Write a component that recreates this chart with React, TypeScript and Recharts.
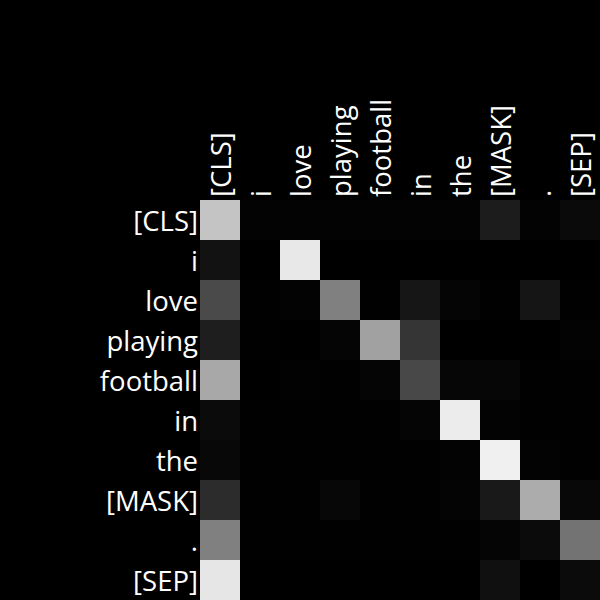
import React from 'react';
import { ScatterChart, Scatter, XAxis, YAxis } from 'recharts';

const tokens = ['[CLS]', 'i', 'love', 'playing', 'football', 'in', 'the', '[MASK]', '.', '[SEP]'];

// attention weights, one row per query token (0..1 → grey level)
const rowCls = [0.77, 0.01, 0.01, 0.01, 0.01, 0.01, 0.01, 0.11, 0.01, 0.04];
const rowI = [0.07, 0.0, 0.91, 0.0, 0.0, 0.0, 0.0, 0.0, 0.0, 0.0];
const rowLove = [0.29, 0.004, 0.012, 0.5, 0.004, 0.086, 0.02, 0.004, 0.082, 0.004];
const rowPlaying = [0.118, 0.004, 0.0, 0.02, 0.63, 0.208, 0.0, 0.0, 0.0, 0.012];
const rowFootball = [0.66, 0.0, 0.008, 0.004, 0.02, 0.282, 0.024, 0.024, 0.004, 0.004];
const rowIn = [0.043, 0.004, 0.004, 0.004, 0.004, 0.02, 0.925, 0.012, 0.004, 0.004];
const rowThe = [0.031, 0.004, 0.004, 0.004, 0.004, 0.004, 0.012, 0.94, 0.012, 0.004];
const rowMask = [0.172, 0.004, 0.004, 0.027, 0.004, 0.004, 0.016, 0.098, 0.675, 0.031];
const rowDot = [0.5, 0.004, 0.004, 0.004, 0.004, 0.004, 0.004, 0.02, 0.043, 0.45];
const rowSep = [0.9, 0.0, 0.0, 0.0, 0.0, 0.0, 0.0, 0.063, 0.0, 0.043];

const rows = [rowCls, rowI, rowLove, rowPlaying, rowFootball, rowIn, rowThe, rowMask, rowDot, rowSep];

const cells = rows.flatMap((r, y) => r.map((v, x) => ({ x, y, v })));

const W = 600;
const H = 600;
const LEFT = 200;
const TOP = 200;
const CELL = (W - LEFT) / tokens.length;
const FONT = "'Open Sans', sans-serif";
const FS = 27.5;

const grey = (v: number) => {
  const g = Math.round(v * 255);
  return `rgb(${g},${g},${g})`;
};

const Cell = (props: any) => {
  const { cx, cy, payload } = props;
  return <rect x={cx - CELL / 2} y={cy - CELL / 2} width={CELL} height={CELL} fill={grey(payload.v)} />;
};

const TopTick = (props: any) => {
  const { x, payload } = props;
  return (
    <text
      x={x}
      y={TOP - 3}
      transform={`rotate(-90, ${x}, ${TOP - 3})`}
      textAnchor="start"
      dominantBaseline="central"
      fill="#fff"
      fontSize={FS}
      fontFamily={FONT}
    >
      {tokens[payload.value]}
    </text>
  );
};

const LeftTick = (props: any) => {
  const { y, payload } = props;
  return (
    <text x={LEFT - 2} y={y} textAnchor="end" dominantBaseline="central" fill="#fff" fontSize={FS} fontFamily={FONT}>
      {tokens[payload.value]}
    </text>
  );
};

export default function App() {
  const ticks = tokens.map((_, i) => i);
  return (
    <div style={{ position: 'absolute', left: 0, top: 0, width: W, height: H, background: '#000' }}>
      <ScatterChart width={W} height={H} margin={{ top: 0, right: 0, bottom: 0, left: 0 }}>
        <XAxis
          type="number"
          dataKey="x"
          orientation="top"
          domain={[-0.5, tokens.length - 0.5]}
          ticks={ticks}
          interval={0}
          height={TOP}
          axisLine={false}
          tickLine={false}
          tick={<TopTick />}
        />
        <YAxis
          type="number"
          dataKey="y"
          reversed
          domain={[-0.5, tokens.length - 0.5]}
          ticks={ticks}
          interval={0}
          width={LEFT}
          axisLine={false}
          tickLine={false}
          tick={<LeftTick />}
        />
        <Scatter data={cells} shape={<Cell />} isAnimationActive={false} />
      </ScatterChart>
    </div>
  );
}
